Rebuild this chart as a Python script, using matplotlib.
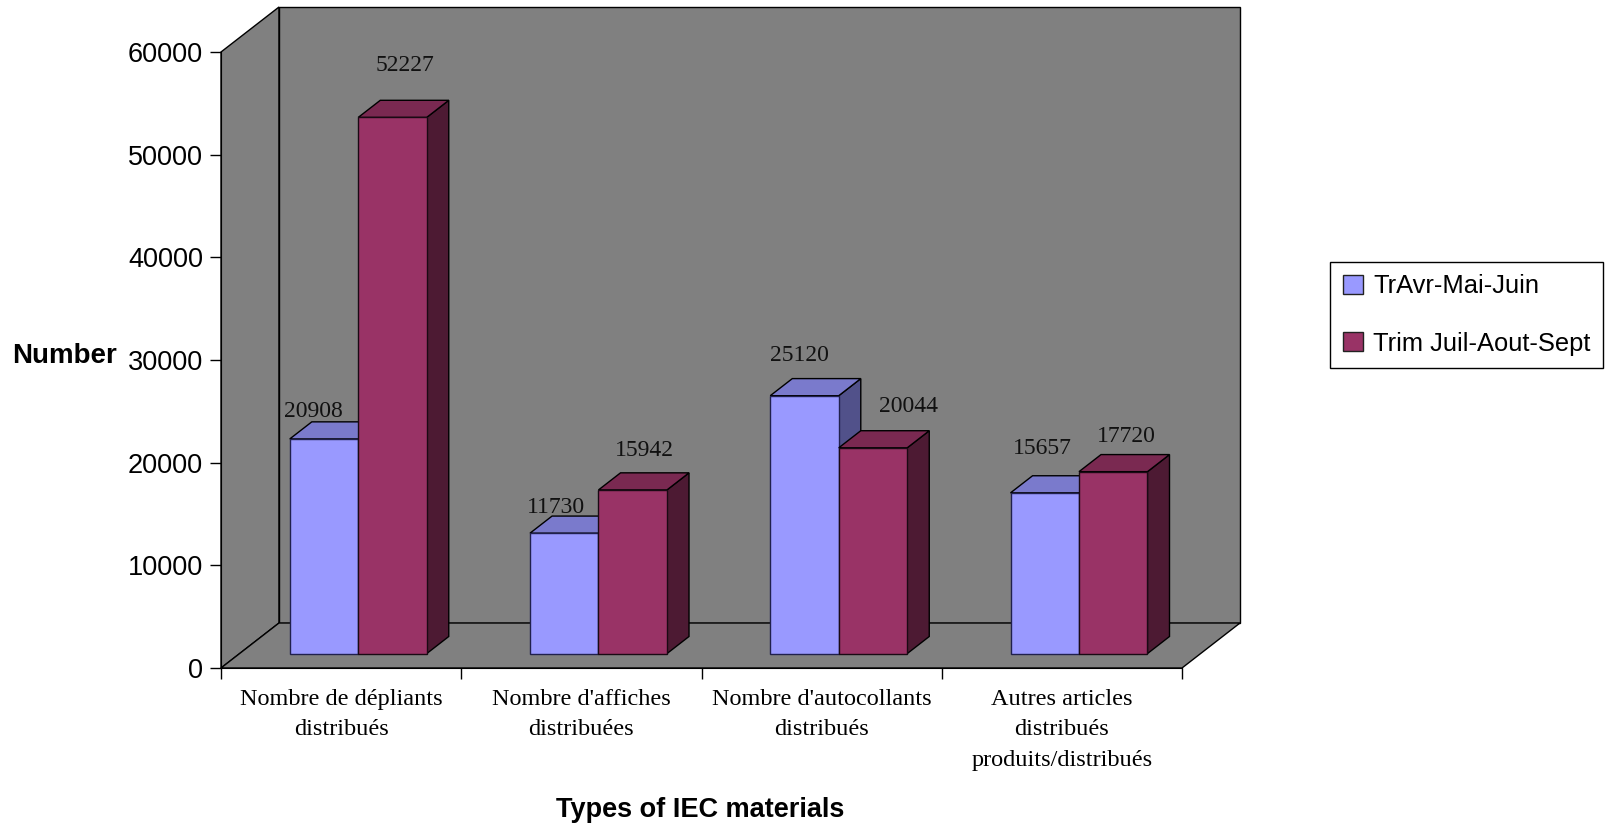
import matplotlib
matplotlib.use('Agg')
import matplotlib.pyplot as plt
from matplotlib.patches import Patch, Polygon

# Values
categories = ['Nombre de dépliants\ndistribués', "Nombre d'affiches\ndistribuées",
              "Nombre d'autocollants\ndistribués", 'Autres articles\ndistribués\nproduits/distribués']
series_names = ['TrAvr-Mai-Juin', 'Trim Juil-Aout-Sept']
trim_avr = [20908, 11730, 25120, 15657]
trim_juil = [52227, 15942, 20044, 17720]
y_ticks = [0, 10000, 20000, 30000, 40000, 50000, 60000]

# Label offsets from the top of each bar, in pixels
offsets_avr = [(-11, 27), (-8, 26), (-5, 40), (-2, 44)]
offsets_juil = [(12, 52), (12, 39), (36, 41), (13, 35)]

# Colours: front, top, side, edge
blue = ('#9999FF', '#7A7ACC', '#51518A', '#20204D')
red = ('#993366', '#7A2951', '#4D1A33', '#1A0A14')
wall = '#808080'

# Oblique projection of the 3D box, in data units
depth_x = 0.2414
depth_y = 4383
bar_width = 0.285
bar_shift = -0.006
bar_front = 0.32
bar_back = 0.70

sans = ['Liberation Sans']
serif = ['Liberation Serif']

W, H = 1610, 830
fig = plt.figure(figsize=(W / 100, H / 100), dpi=100)
ax = fig.add_axes([221 / W, 1 - 668 / H, 961 / W, 616 / H])
ax.set_xlim(0, 4)
ax.set_ylim(0, 60000)
ax.patch.set_visible(False)


def proj(x, y, d):
    return x + d * depth_x, y + d * depth_y


def face(points, color, edge='black', z=1, lw=1.0):
    ax.add_patch(Polygon([proj(*p) for p in points], closed=True, facecolor=color,
                         edgecolor=edge, linewidth=lw, zorder=z, clip_on=False))


# Walls and floor
face([(0, 0, 0), (0, 60000, 0), (0, 60000, 1), (0, 0, 1)], wall)
face([(0, 0, 1), (4, 0, 1), (4, 60000, 1), (0, 60000, 1)], wall)
face([(0, 0, 0), (4, 0, 0), (4, 0, 1), (0, 0, 1)], wall)


def draw_bar(left, value, colors, offset, z):
    right = left + bar_width
    edge = colors[3]
    face([(right, 0, bar_front), (right, 0, bar_back), (right, value, bar_back), (right, value, bar_front)],
         colors[2], edge='black', z=z)
    face([(left, value, bar_front), (right, value, bar_front), (right, value, bar_back), (left, value, bar_back)],
         colors[1], edge='black', z=z)
    face([(left, 0, bar_front), (right, 0, bar_front), (right, value, bar_front), (left, value, bar_front)],
         colors[0], edge=edge, z=z)
    pos = proj(left + bar_width / 2, value, bar_front)
    ax.annotate(str(value), pos, xytext=offset, textcoords='offset pixels', ha='center', va='center',
                family=serif, fontsize=17, color='#111111', zorder=10, annotation_clip=False)


for i in range(len(categories)):
    draw_bar(i + 0.5 - bar_width + bar_shift, trim_avr[i], blue, offsets_avr[i], 2 + i * 2)
    draw_bar(i + 0.5 + bar_shift, trim_juil[i], red, offsets_juil[i], 3 + i * 2)

# Axes
for side in ['top', 'right']:
    ax.spines[side].set_visible(False)
ax.set_yticks(y_ticks)
ax.set_yticklabels([str(v) for v in y_ticks], family=sans, fontsize=19.5)
ax.tick_params(axis='y', length=8, width=1, pad=5)
ax.set_xticks(range(len(categories) + 1))
ax.set_xticklabels([])
ax.tick_params(axis='x', which='major', length=8, width=1)
ax.set_xticks([i + 0.5 for i in range(len(categories))], minor=True)
ax.set_xticklabels(categories, minor=True, family=serif, fontsize=17.5, linespacing=1.6)
ax.tick_params(axis='x', which='minor', length=0, pad=15)

ax.set_ylabel('Number', family=sans, fontsize=20, fontweight='bold', rotation=0, ha='center', va='center')
ax.yaxis.set_label_coords((65 - 221) / 961, (668 - 356) / 616)
ax.set_xlabel('Types of IEC materials', family=sans, fontsize=19.5, fontweight='bold', ha='center', va='center')
ax.xaxis.set_label_coords((700 - 221) / 961, (668 - 810) / 616)

# Legend
handles = [Patch(facecolor=blue[0], edgecolor='#222222', label=series_names[0]),
           Patch(facecolor=red[0], edgecolor='#222222', label=series_names[1])]
leg = fig.legend(handles=handles, loc='center left', bbox_to_anchor=(1330 / W, 1 - 315 / H),
                 prop={'family': sans, 'size': 18.4}, fancybox=False, framealpha=1, edgecolor='black',
                 handlelength=0.78, handleheight=0.78, handletextpad=0.4, labelspacing=1.3,
                 borderpad=0.5, borderaxespad=0)
leg.get_frame().set_linewidth(1)

fig.savefig('out.png', dpi=100)
